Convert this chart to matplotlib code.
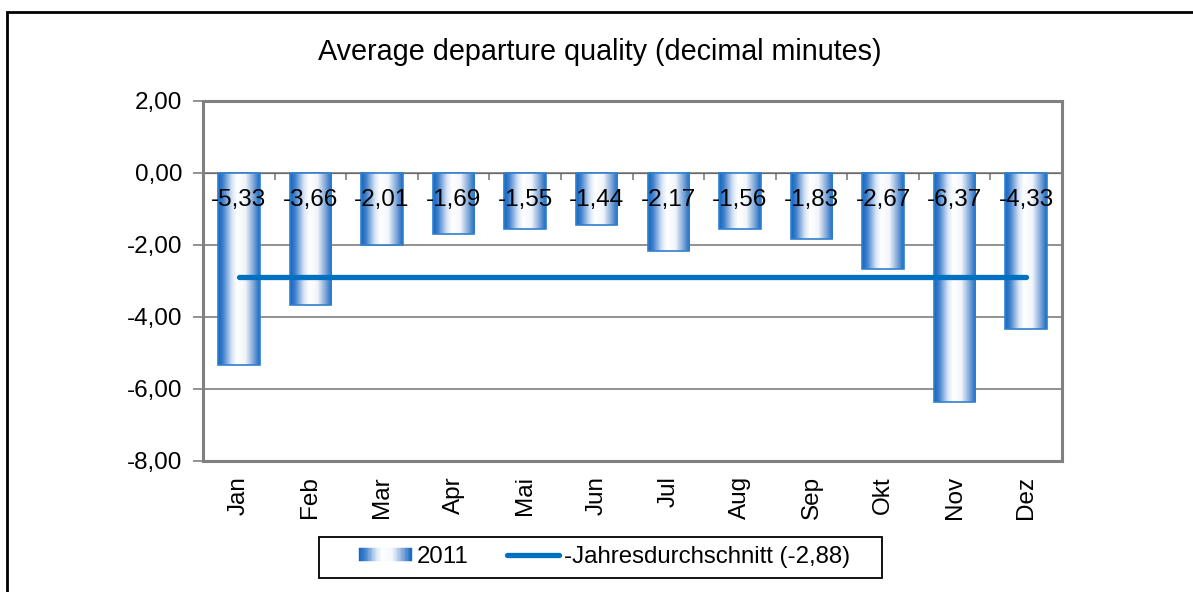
import matplotlib
matplotlib.use("Agg")
import matplotlib.pyplot as plt
import numpy as np
from matplotlib.colors import LinearSegmentedColormap
from matplotlib.patches import Rectangle
from matplotlib.lines import Line2D
from matplotlib.legend_handler import HandlerBase

plt.rcParams['font.family'] = ['Liberation Sans', 'DejaVu Sans']

months = ["Jan", "Feb", "Mar", "Apr", "Mai", "Jun", "Jul", "Aug", "Sep", "Okt", "Nov", "Dez"]
values_2011 = [-5.33, -3.66, -2.01, -1.69, -1.55, -1.44, -2.17, -1.56, -1.83, -2.67, -6.37, -4.33]
annual_avg = -2.88
yticks = [2, 0, -2, -4, -6, -8]
title = "Average departure quality (decimal minutes)"
series_label = "2011"
avg_label = "-Jahresdurchschnitt (-2,88)"

def de(v):
    return f"{v:.2f}".replace(".", ",")

grad = LinearSegmentedColormap.from_list(
    "g", [(0.0, "#1266C2"), (0.12, "#3F80CC"), (0.33, "#D6E3F4"), (0.45, "#FFFFFF"),
          (0.65, "#F3F6FB"), (0.85, "#7EA5D8"), (1.0, "#1469C2")])

FS = 17.5

fig = plt.figure(figsize=(11.93, 5.92), dpi=100)
ax = fig.add_axes([203/1193, 1-461/592, (1062-203)/1193, (461-101)/592])

x = np.arange(len(months))
w = 0.58

gimg = np.linspace(0, 1, 256).reshape(1, -1)
for xi, v in zip(x, values_2011):
    ax.imshow(gimg, cmap=grad, extent=(xi - w/2, xi + w/2, v, 0), aspect='auto', zorder=3,
              interpolation='bilinear')
    ax.add_patch(Rectangle((xi - w/2, 0), w, v, fill=False, edgecolor="#2F80CF", lw=1.2, zorder=4))
ax.set_xlim(-0.5, len(months) - 0.5)
ax.set_ylim(-8, 2)

ax.plot([x[0], x[-1]], [annual_avg, annual_avg], color="#0070C0", lw=3.8, solid_capstyle='round', zorder=5)

for xi, v in zip(x, values_2011):
    ax.text(xi, -0.75, de(v), ha='center', va='center', fontsize=FS, color='black', zorder=6)

for yv in yticks:
    if yv not in (2, -8):
        ax.axhline(yv, color="#7F7F7F", lw=1.2, zorder=1)

ax.set_yticks(yticks)
ax.set_yticklabels([de(v) for v in yticks], fontsize=FS)
ax.tick_params(axis='y', direction='out', length=7, width=1.2, color="#7F7F7F", pad=8)

ax.set_xticks(x)
ax.set_xticklabels(months, rotation=90, fontsize=FS)
ax.tick_params(axis='x', length=0, pad=11)

for s in ax.spines.values():
    s.set_color("#808080")
    s.set_linewidth(2.2)

sec = ax.secondary_xaxis(0.8)
sec.set_xticks(np.arange(-0.5, len(months) + 0.5, 1.0))
sec.set_xticklabels([])
sec.tick_params(direction='in', length=5, width=1.2, color="#7F7F7F")
sec.spines['bottom'].set_visible(False)

fig.text(0.503, 1 - 52/592, title, ha='center', va='center', fontsize=20.7)

class GradHandler(HandlerBase):
    def create_artists(self, legend, orig_handle, xdescent, ydescent, width, height, fontsize, trans):
        arts = []
        n = 40
        for i in range(n):
            c = grad((i + 0.5) / n)
            r = Rectangle((-xdescent + i * width / n, -ydescent + height * 0.12), width / n * 1.05, height * 0.76,
                          facecolor=c, edgecolor=c, lw=0.3, transform=trans)
            arts.append(r)
        return arts

proxy_bar = Rectangle((0, 0), 1, 1)
proxy_line = Line2D([0], [0], color="#0070C0", lw=3.8, solid_capstyle='round')
leg = fig.legend([proxy_bar, proxy_line], [series_label, avg_label],
                 handler_map={Rectangle: GradHandler()},
                 loc='center', bbox_to_anchor=((358 + 851) / 2 / 1193, 1 - 557/592), ncol=2,
                 fontsize=17.3, frameon=False,
                 handlelength=2.2, handletextpad=0.2, columnspacing=1.6, borderpad=0.0)

fig.patches.append(Rectangle((319/1193, 1 - 578/592), (882 - 319)/1193, (578 - 537)/592,
                             transform=fig.transFigure, fill=False, edgecolor='black', lw=1.3))

fig.patches.append(Rectangle((7/1193, -0.1), 1.2, 1 - 12/592 + 0.1, transform=fig.transFigure,
                             fill=False, edgecolor='black', lw=2))

fig.savefig("out.png", dpi=100)
